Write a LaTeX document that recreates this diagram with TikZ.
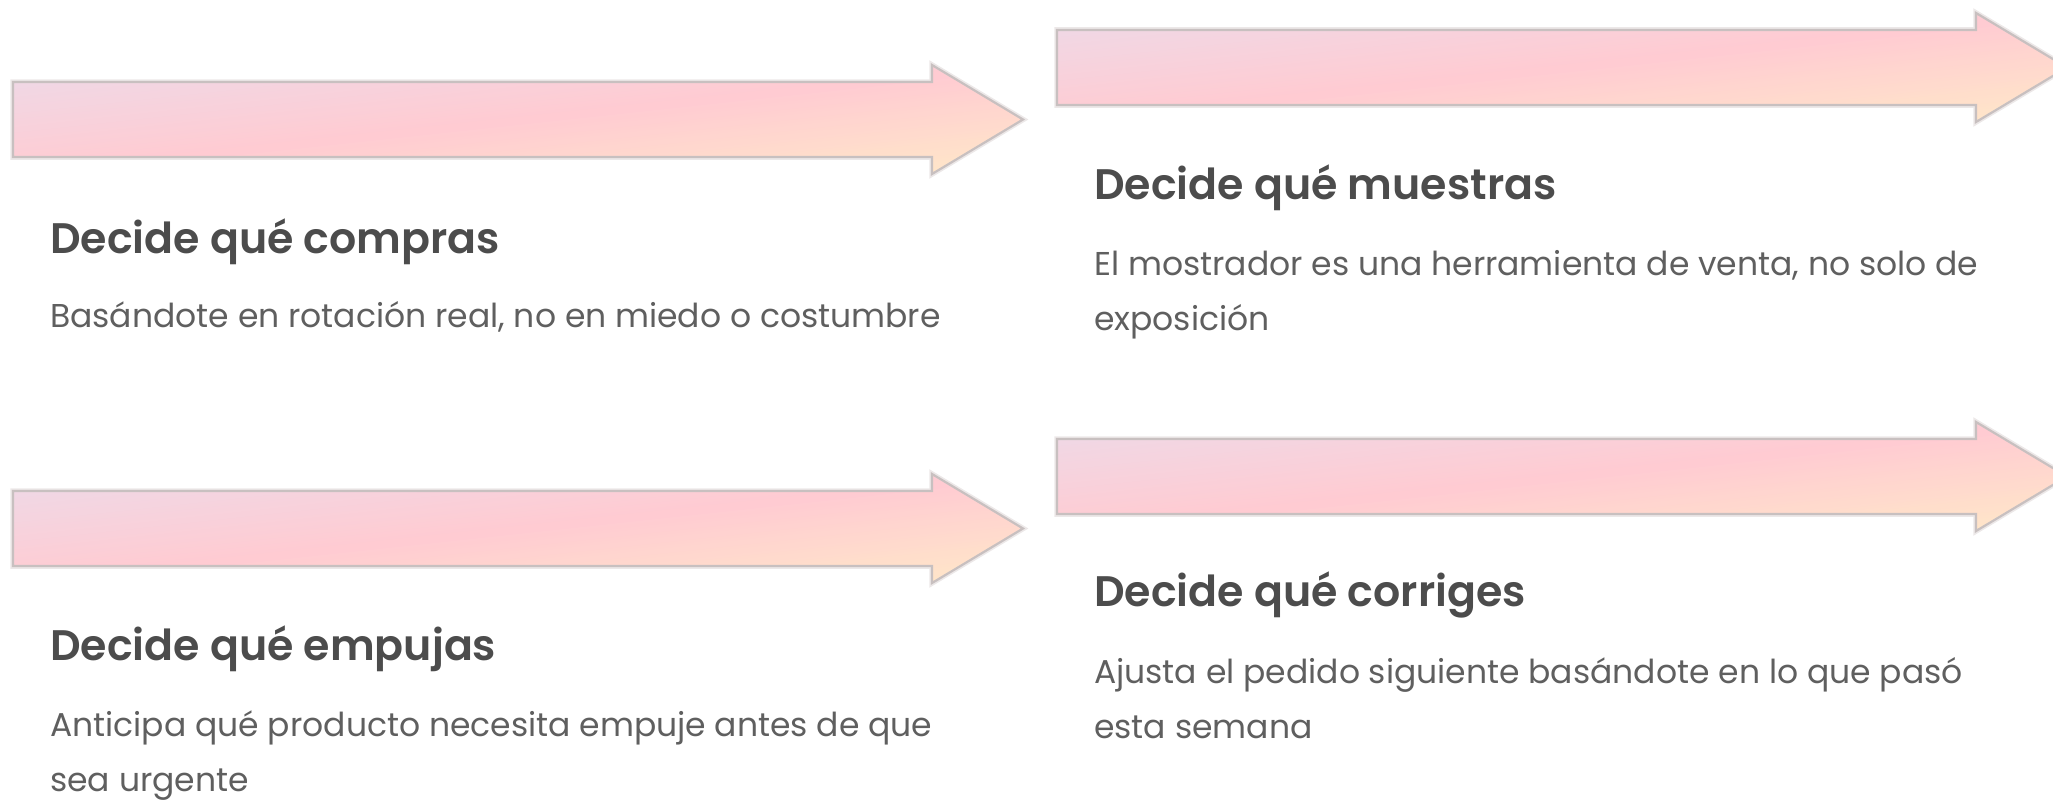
\documentclass[tikz,border=0pt]{standalone}
\usepackage{fontspec}
\setmainfont{Poppins}
\newfontfamily\titlefont{Poppins SemiBold}
\definecolor{lav}{RGB}{238,218,232}
\definecolor{pinkm}{RGB}{255,203,210}
\definecolor{peach}{RGB}{255,232,200}
\definecolor{edgec}{RGB}{200,192,192}
\definecolor{glowc}{RGB}{236,232,232}
\definecolor{titlec}{RGB}{76,76,76}
\definecolor{bodyc}{RGB}{95,95,95}
\tikzset{
  arrowedge/.style={draw=edgec, line width=2.2pt, line join=miter},
  arrowglow/.style={draw=glowc, line width=5.5pt, line join=miter},
  titletext/.style={anchor=base west, inner sep=0pt, text=titlec, font=\fontsize{42.7}{48}\titlefont},
  bodytext/.style={anchor=base west, inner sep=0pt, text=bodyc, align=left, font=\fontsize{33}{55}\selectfont},
}
% arrow outline relative to its bounding box corner (W=1010, H=109)
\def\arrowpath{(0,17) -- (919,17) -- (919,0) -- (1010,54.5) -- (919,109) -- (919,92) -- (0,92) -- cycle}
\newcommand{\gradarrow}[2]{%
  \begin{scope}[shift={(#1,#2)}]
    \path[arrowglow] \arrowpath;
    \begin{scope}
      \clip \arrowpath;
      \foreach \i in {0,...,79}{%
        \pgfmathsetmacro\ta{\i/80}%
        \pgfmathsetmacro\tb{(\i+1.6)/80}%
        \ifnum\i<40
          \pgfmathtruncatemacro\pp{\i*100/39}%
          \colorlet{stripc}{pinkm!\pp!lav}%
        \else
          \pgfmathtruncatemacro\pp{(\i-40)*100/39}%
          \colorlet{stripc}{peach!\pp!pinkm}%
        \fi
        \fill[stripc] ({(2*\ta+0.1)*1010},-10.9) -- ({(2*\tb+0.1)*1010},-10.9)
          -- ({(2*\tb-1.1)*1010},119.9) -- ({(2*\ta-1.1)*1010},119.9) -- cycle;
      }
    \end{scope}
    \path[arrowedge] \arrowpath;
  \end{scope}}
\begin{document}
\begin{tikzpicture}[x=1pt,y=-1pt]
\useasboundingbox (0,0) rectangle (2053,800);
\clip (0,0) rectangle (2053,800);
% arrows
\gradarrow{13}{65}
\gradarrow{1057}{13}
\gradarrow{13}{474}
\gradarrow{1057}{422}
% texts
\node[titletext] (t1) at (50,253) {Decide qué compras};
\node[bodytext] (b1) at (50,327) {Basándote en rotación real, no en miedo o costumbre};
\node[titletext] (t2) at (1094,199) {Decide qué muestras};
\node[bodytext] (b2) at (1094,330) {El mostrador es una herramienta de venta, no solo de\\exposición};
\node[titletext] (t3) at (50,660) {Decide qué empujas};
\node[bodytext] (b3) at (50,791) {Anticipa qué producto necesita empuje antes de que\\sea urgente};
\node[titletext] (t4) at (1094,606) {Decide qué corriges};
\node[bodytext] (b4) at (1094,738) {Ajusta el pedido siguiente basándote en lo que pasó\\esta semana};
\end{tikzpicture}
\end{document}
